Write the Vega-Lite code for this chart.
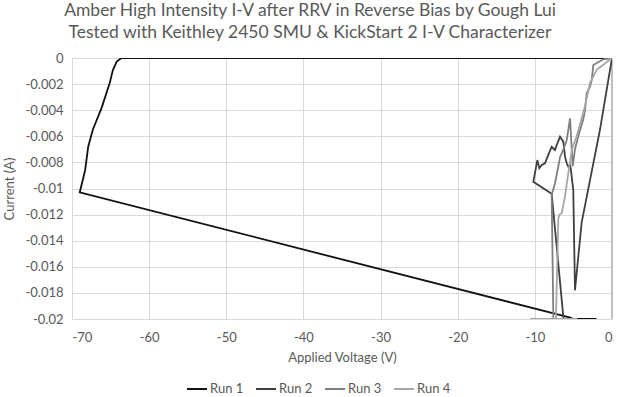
{
  "$schema": "https://vega.github.io/schema/vega-lite/v6.json",
  "width": 540,
  "height": 261,
  "autosize": {"type": "none"},
  "padding": {"left": 72, "top": 58, "right": 7, "bottom": 78},
  "background": "white",
  "config": {"font": "Lato", "view": {"stroke": null}},
  "title": {
    "text": ["Amber High Intensity I-V after RRV in Reverse Bias by Gough Lui", "Tested with Keithley 2450 SMU & KickStart 2 I-V Characterizer"],
    "fontSize": 17.5,
    "fontWeight": "normal",
    "color": "#595959",
    "anchor": "middle",
    "dx": -32,
    "offset": 11,
    "lineHeight": 22
  },
  "data": {
    "values": [
      {"run": "Run 1", "i": 0, "v": 0, "c": 0},
      {"run": "Run 1", "i": 1, "v": -63.6, "c": 0},
      {"run": "Run 1", "i": 2, "v": -64.2, "c": -0.00028},
      {"run": "Run 1", "i": 3, "v": -64.7, "c": -0.00092},
      {"run": "Run 1", "i": 4, "v": -65.1, "c": -0.0019},
      {"run": "Run 1", "i": 5, "v": -66.15, "c": -0.0038},
      {"run": "Run 1", "i": 6, "v": -67.3, "c": -0.0055},
      {"run": "Run 1", "i": 7, "v": -67.9, "c": -0.0068},
      {"run": "Run 1", "i": 8, "v": -68.3, "c": -0.0086},
      {"run": "Run 1", "i": 9, "v": -69.0, "c": -0.0103},
      {"run": "Run 1", "i": 10, "v": -5.4, "c": -0.0199},
      {"run": "Run 1", "i": 11, "v": -5.0, "c": -0.02},
      {"run": "Run 1", "i": 12, "v": -3.5, "c": -0.02},
      {"run": "Run 1", "i": 13, "v": -2.0, "c": -0.02},

      {"run": "Run 2", "i": 0, "v": 0, "c": 0},
      {"run": "Run 2", "i": 1, "v": -1.56, "c": -0.0055},
      {"run": "Run 2", "i": 2, "v": -3.93, "c": -0.0126},
      {"run": "Run 2", "i": 3, "v": -4.8, "c": -0.0178},
      {"run": "Run 2", "i": 4, "v": -5.02, "c": -0.0101},
      {"run": "Run 2", "i": 5, "v": -5.35, "c": -0.00845},
      {"run": "Run 2", "i": 6, "v": -5.44, "c": -0.0082},
      {"run": "Run 2", "i": 7, "v": -5.66, "c": -0.00833},
      {"run": "Run 2", "i": 8, "v": -5.87, "c": -0.00807},
      {"run": "Run 2", "i": 9, "v": -6.09, "c": -0.00756},
      {"run": "Run 2", "i": 10, "v": -6.31, "c": -0.00641},
      {"run": "Run 2", "i": 11, "v": -6.74, "c": -0.00603},
      {"run": "Run 2", "i": 12, "v": -7.17, "c": -0.00667},
      {"run": "Run 2", "i": 13, "v": -7.39, "c": -0.00705},
      {"run": "Run 2", "i": 14, "v": -7.82, "c": -0.0068},
      {"run": "Run 2", "i": 15, "v": -8.26, "c": -0.00743},
      {"run": "Run 2", "i": 16, "v": -8.69, "c": -0.00807},
      {"run": "Run 2", "i": 17, "v": -9.11, "c": -0.0082},
      {"run": "Run 2", "i": 18, "v": -9.42, "c": -0.00845},
      {"run": "Run 2", "i": 19, "v": -9.68, "c": -0.00782},
      {"run": "Run 2", "i": 20, "v": -10.2, "c": -0.00948},
      {"run": "Run 2", "i": 21, "v": -7.82, "c": -0.0104},
      {"run": "Run 2", "i": 22, "v": -6.3, "c": -0.0199},
      {"run": "Run 2", "i": 23, "v": -6.2, "c": -0.02},

      {"run": "Run 3", "i": 0, "v": 0, "c": 0},
      {"run": "Run 3", "i": 1, "v": -1.13, "c": -0.0001},
      {"run": "Run 3", "i": 2, "v": -2.42, "c": -0.00054},
      {"run": "Run 3", "i": 3, "v": -2.63, "c": -0.0017},
      {"run": "Run 3", "i": 4, "v": -2.85, "c": -0.0022},
      {"run": "Run 3", "i": 5, "v": -3.28, "c": -0.0027},
      {"run": "Run 3", "i": 6, "v": -3.5, "c": -0.004},
      {"run": "Run 3", "i": 7, "v": -3.72, "c": -0.0047},
      {"run": "Run 3", "i": 8, "v": -4.37, "c": -0.006},
      {"run": "Run 3", "i": 9, "v": -4.8, "c": -0.007},
      {"run": "Run 3", "i": 10, "v": -5.1, "c": -0.0083},
      {"run": "Run 3", "i": 11, "v": -5.44, "c": -0.00462},
      {"run": "Run 3", "i": 12, "v": -5.87, "c": -0.0063},
      {"run": "Run 3", "i": 13, "v": -6.31, "c": -0.007},
      {"run": "Run 3", "i": 14, "v": -6.74, "c": -0.0076},
      {"run": "Run 3", "i": 15, "v": -6.96, "c": -0.0083},
      {"run": "Run 3", "i": 16, "v": -7.39, "c": -0.0096},
      {"run": "Run 3", "i": 17, "v": -7.82, "c": -0.0105},
      {"run": "Run 3", "i": 18, "v": -7.6, "c": -0.02},

      {"run": "Run 4", "i": 0, "v": 0, "c": 0},
      {"run": "Run 4", "i": 1, "v": -1.98, "c": -0.0009},
      {"run": "Run 4", "i": 2, "v": -2.85, "c": -0.0019},
      {"run": "Run 4", "i": 3, "v": -3.5, "c": -0.0037},
      {"run": "Run 4", "i": 4, "v": -4.58, "c": -0.006},
      {"run": "Run 4", "i": 5, "v": -5.2, "c": -0.007},
      {"run": "Run 4", "i": 6, "v": -5.66, "c": -0.0088},
      {"run": "Run 4", "i": 7, "v": -6.09, "c": -0.0106},
      {"run": "Run 4", "i": 8, "v": -6.52, "c": -0.0119},
      {"run": "Run 4", "i": 9, "v": -6.8, "c": -0.012},
      {"run": "Run 4", "i": 10, "v": -6.96, "c": -0.0123},
      {"run": "Run 4", "i": 11, "v": -7.26, "c": -0.0198},
      {"run": "Run 4", "i": 12, "v": -7.26, "c": -0.02},
      {"run": "Run 4", "i": 13, "v": -10.6, "c": -0.02},
      {"run": "Run 4", "i": 14, "v": -4.5, "c": -0.02}
    ]
  },
  "layer": [
    {
      "mark": {"type": "rule", "color": "#bfbfbf", "strokeWidth": 1},
      "encoding": {"x": {"datum": 0, "type": "quantitative"}}
    },
    {
      "mark": {"type": "line", "strokeWidth": 1.8, "clip": true},
      "encoding": {
        "x": {
          "field": "v",
          "type": "quantitative",
          "scale": {"domain": [-70, 0], "nice": false},
          "axis": {
            "title": "Applied Voltage (V)",
            "titleFontSize": 13,
            "titleFontWeight": "normal",
            "titleColor": "#595959",
            "titlePadding": 7,
            "values": [-70, -60, -50, -40, -30, -20, -10, 0],
            "labelExpr": "replace(format(datum.value, 'd'), '\u2212', '-')",
            "labelFontSize": 13,
            "labelColor": "#595959",
            "labelPadding": 12,
            "ticks": false,
            "domain": false,
            "grid": true,
            "gridColor": "#d9d9d9",
            "gridWidth": 1
          }
        },
        "y": {
          "field": "c",
          "type": "quantitative",
          "scale": {"domain": [-0.02, 0], "nice": false},
          "axis": {
            "title": "Current (A)",
            "titleFontSize": 13,
            "titleFontWeight": "normal",
            "titleColor": "#595959",
            "titlePadding": 8,
            "values": [0, -0.002, -0.004, -0.006, -0.008, -0.01, -0.012, -0.014, -0.016, -0.018, -0.02],
            "labelExpr": "replace(format(datum.value, '.3~f'), '\u2212', '-')",
            "labelFontSize": 13,
            "labelColor": "#595959",
            "labelPadding": 9,
            "ticks": false,
            "domain": false,
            "grid": true,
            "gridColor": "#d9d9d9",
            "gridWidth": 1
          }
        },
        "order": {"field": "i", "type": "quantitative"},
        "color": {
          "field": "run",
          "type": "nominal",
          "scale": {"domain": ["Run 1", "Run 2", "Run 3", "Run 4"], "range": ["#111111", "#404040", "#7f7f7f", "#a6a6a6"]},
          "legend": {
            "title": null,
            "orient": "none",
            "direction": "horizontal",
            "legendX": 114,
            "legendY": 320,
            "symbolType": "stroke",
            "symbolSize": 400,
            "symbolStrokeWidth": 2,
            "labelFontSize": 13,
            "labelColor": "#595959",
            "labelOffset": 2,
            "columnPadding": 8
          }
        }
      }
    }
  ]
}
